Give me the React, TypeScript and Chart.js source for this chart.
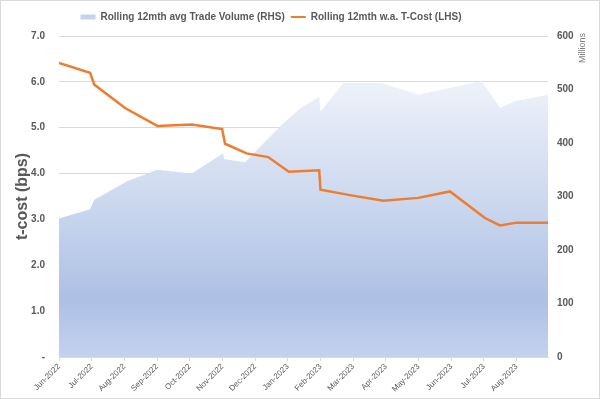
import React, { useEffect, useRef } from 'react';
import { Chart, registerables } from 'chart.js';

Chart.register(...registerables);

const monthLabels = [
  'Jun-2022', 'Jul-2022', 'Aug-2022', 'Sep-2022', 'Oct-2022', 'Nov-2022', 'Dec-2022',
  'Jan-2023', 'Feb-2023', 'Mar-2023', 'Apr-2023', 'May-2023', 'Jun-2023', 'Jul-2023', 'Aug-2023',
];

// x = months since Jun-2022 (date axis)
const tcostX = [0, 0.95, 1.08, 2.02, 3.01, 4.06, 4.99, 5.08, 5.74, 6.4, 7.03, 7.96, 8.0, 8.9, 9.92, 10.99, 11.96, 13.03, 13.49, 14.0, 14.96];
const tcostY = [6.41, 6.2, 5.94, 5.43, 5.04, 5.07, 4.97, 4.65, 4.44, 4.36, 4.04, 4.07, 3.65, 3.53, 3.41, 3.47, 3.61, 3.03, 2.87, 2.93, 2.93];

// Trade volume, millions
const volumeX = [0, 0.95, 1.08, 2.07, 3.01, 4.06, 5.02, 5.05, 5.69, 6.76, 7.37, 7.96, 8.0, 8.7, 9.87, 10.99, 12.93, 13.49, 14.0, 14.96];
const volumeY = [259, 276, 294, 328, 350, 343, 381, 370, 364, 431, 464, 487, 459, 512, 512, 490, 516, 466, 479, 490];

const leftTicks = [0, 1, 2, 3, 4, 5, 6, 7];
const rightTicks = [0, 100, 200, 300, 400, 500, 600];

const TEXT = '#595959';
const GRID = '#d9d9d9';
const FAMILY = "'Liberation Sans', Arial, sans-serif";

export default function App() {
  const ref = useRef<HTMLCanvasElement>(null);

  useEffect(() => {
    const canvas = ref.current;
    if (!canvas) return;

    const areaFill = (ctx: any) => {
      const chart = ctx.chart;
      const a = chart.chartArea;
      if (!a) return '#c5d3ee';
      const g = chart.ctx.createLinearGradient(0, a.top, 0, a.bottom);
      g.addColorStop(0, '#f8fafd');
      g.addColorStop(0.2, '#e9eef8');
      g.addColorStop(0.5, '#cdd9ef');
      g.addColorStop(0.82, '#adc0e5');
      g.addColorStop(1, '#c4d2ed');
      return g;
    };

    const extras = {
      id: 'extras',
      afterLayout(chart: any) {
        const lg = chart.legend;
        if (lg) {
          lg.left -= 29;
          lg.right -= 29;
          lg.top -= 4;
          lg.bottom -= 4;
        }
      },
      afterDraw(chart: any) {
        const c = chart.ctx;
        c.save();
        c.strokeStyle = GRID;
        c.lineWidth = 1;
        c.strokeRect(0.5, 0.5, chart.width - 1, chart.height - 1);
        c.translate(583, 48);
        c.rotate(-Math.PI / 2);
        c.font = `9px ${FAMILY}`;
        c.fillStyle = '#7f7f7f';
        c.textAlign = 'center';
        c.textBaseline = 'middle';
        c.fillText('Millions', 0, 0);
        c.restore();
      },
    };

    const chart = new Chart(canvas, {
      type: 'line',
      data: {
        datasets: [
          {
            label: 'Rolling 12mth w.a. T-Cost (LHS)',
            data: tcostX.map((x, i) => ({ x, y: tcostY[i] })),
            yAxisID: 'y',
            borderColor: '#ED7D31',
            backgroundColor: '#ED7D31',
            borderWidth: 2.5,
            pointRadius: 0,
            pointStyle: 'line',
            tension: 0,
            fill: false,
          },
          {
            label: 'Rolling 12mth avg Trade Volume (RHS)',
            data: volumeX.map((x, i) => ({ x, y: volumeY[i] })),
            yAxisID: 'y1',
            borderWidth: 0,
            borderColor: 'rgba(0,0,0,0)',
            backgroundColor: areaFill,
            pointRadius: 0,
            pointStyle: 'rect',
            tension: 0,
            fill: 'origin',
          },
        ],
      },
      options: {
        animation: false,
        responsive: false,
        maintainAspectRatio: false,
        layout: { padding: { top: 10, left: 0, right: 0, bottom: 0 } },
        plugins: {
          tooltip: { enabled: false },
          legend: {
            position: 'top',
            labels: {
              usePointStyle: true,
              pointStyleWidth: 15,
              boxHeight: 5,
              padding: 6,
              color: TEXT,
              font: { family: FAMILY, size: 10, weight: 'bold' },
              sort: (a: any, b: any) => b.datasetIndex - a.datasetIndex,
              generateLabels: (ch: any) => {
                const items = Chart.defaults.plugins.legend.labels.generateLabels(ch);
                return items.map((it: any) => {
                  if (it.datasetIndex === 1) {
                    return { ...it, fillStyle: '#c5d3ee', strokeStyle: '#c5d3ee', lineWidth: 0, pointStyle: 'rect' };
                  }
                  return { ...it, strokeStyle: '#ED7D31', fillStyle: '#ED7D31', lineWidth: 2, pointStyle: 'line' };
                });
              },
            },
          },
        },
        scales: {
          x: {
            type: 'linear',
            position: 'bottom',
            min: 0,
            max: 14.96,
            afterBuildTicks: (s: any) => {
              s.ticks = monthLabels.map((_, i) => ({ value: i }));
            },
            ticks: {
              autoSkip: false,
              minRotation: 45,
              maxRotation: 45,
              padding: 1,
              color: TEXT,
              font: { family: FAMILY, size: 8 },
              callback: (v: any) => monthLabels[v] ?? '',
            },
            grid: { display: true, drawOnChartArea: false, drawTicks: true, tickLength: 4, color: GRID },
            border: { display: true, color: GRID },
            afterFit: (s: any) => { s.height = 42; },
          },
          y: {
            position: 'left',
            min: 0,
            max: 7,
            afterBuildTicks: (s: any) => { s.ticks = leftTicks.map((v) => ({ value: v })); },
            ticks: {
              padding: 14,
              color: TEXT,
              font: { family: FAMILY, size: 10, weight: 'bold' },
              callback: (v: any) => (v === 0 ? '-' : Number(v).toFixed(1)),
            },
            grid: { color: GRID, drawTicks: false },
            border: { display: false },
            title: {
              display: true,
              text: 't-cost (bps)',
              color: TEXT,
              font: { family: FAMILY, size: 16, weight: 'bold' },
              padding: { top: 13, bottom: 0 },
            },
            afterFit: (s: any) => { s.width = 59; },
          },
          y1: {
            position: 'right',
            min: 0,
            max: 600,
            afterBuildTicks: (s: any) => { s.ticks = rightTicks.map((v) => ({ value: v })); },
            ticks: {
              padding: 9,
              color: TEXT,
              font: { family: FAMILY, size: 10, weight: 'bold' },
            },
            grid: { display: false, drawTicks: false },
            border: { display: false },
            afterFit: (s: any) => { s.width = 52; },
          },
        },
      },
      plugins: [extras],
    } as any);

    return () => chart.destroy();
  }, []);

  return (
    <div style={{ position: 'absolute', left: 0, top: 0, width: 600, height: 399, background: '#fff' }}>
      <canvas ref={ref} width={600} height={399} style={{ display: 'block' }} />
    </div>
  );
}
